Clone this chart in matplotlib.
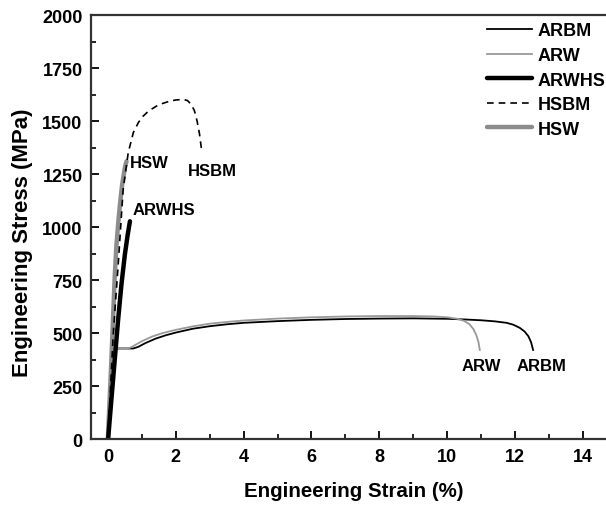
import matplotlib.pyplot as plt
import numpy as np

plt.rcParams['font.family'] = ['Liberation Sans', 'DejaVu Sans']
plt.rcParams['font.weight'] = 'bold'

# Stress-strain curves (strain in %, stress in MPa)
arbm_strain = [0, 0.22, 0.5, 0.75, 0.9, 1.1, 1.4, 1.7, 2.0, 2.5, 3.0, 3.5, 4.0, 5.0, 6.0,
               7.0, 8.0, 9.0, 10.0, 10.5, 11.0, 11.4, 11.75, 11.95, 12.14, 12.28, 12.39,
               12.47, 12.53]
arbm_stress = [0, 428, 428, 428, 436, 453, 474, 490, 503, 521, 533, 542, 549, 557, 563,
               567, 569, 570, 568, 565, 561, 556, 549, 540, 525, 508, 486,
               458, 421]

arw_strain = [0, 0.22, 0.5, 0.65, 0.8, 1.0, 1.3, 1.6, 2.0, 2.5, 3.0, 3.5, 4.0, 5.0, 6.0,
              7.0, 8.0, 9.0, 9.6, 10.0, 10.3, 10.5, 10.65, 10.77, 10.86, 10.92, 10.96]
arw_stress = [0, 428, 428, 431, 444, 462, 484, 500, 516, 532, 545, 553, 560, 569, 575,
              579, 581, 581, 579, 575, 568, 558, 543, 520, 490, 458, 421]

arwhs_strain = [0.01, 0.1, 0.2, 0.3, 0.4, 0.5, 0.58, 0.65]
arwhs_stress = [5, 180, 370, 560, 730, 870, 960, 1028]

hsbm_strain = [0, 0.08, 0.16, 0.30, 0.45, 0.60, 0.75, 0.9, 1.04, 1.2, 1.43, 1.6, 1.83,
               2.0, 2.22, 2.35, 2.45, 2.55, 2.63, 2.7, 2.76]
hsbm_stress = [0, 250, 500, 814, 1177, 1352, 1446, 1494, 1524, 1548, 1571, 1583, 1595,
               1600, 1603, 1597, 1580, 1550, 1500, 1440, 1366]

hsw_strain = [0, 0.05, 0.1, 0.15, 0.2, 0.25, 0.3, 0.35, 0.42, 0.5, 0.55]
hsw_stress = [0, 180, 360, 560, 760, 909, 1010, 1098, 1200, 1280, 1311]

fig = plt.figure(figsize=(6.06, 5.06), dpi=100)
ax = fig.add_axes([0.150, 0.130, 0.868, 0.838])

ax.plot(arbm_strain, arbm_stress, color='black', lw=1.3, label='ARBM')
ax.plot(arw_strain, arw_stress, color='#999999', lw=1.3, label='ARW')
ax.plot(hsw_strain, hsw_stress, color='#8c8c8c', lw=3.2, solid_capstyle='round', label='HSW')
ax.plot(hsbm_strain, hsbm_stress, color='black', lw=1.2, dashes=(4, 3), label='HSBM')
ax.plot(arwhs_strain, arwhs_stress, color='black', lw=3.2, solid_capstyle='round', label='ARWHS')

# Curve labels
lab = dict(fontsize=12, fontweight='bold', va='center')
ax.text(0.65, 1305, 'HSW', **lab)
ax.text(2.36, 1267, 'HSBM', **lab)
ax.text(0.74, 1083, 'ARWHS', **lab)
ax.text(10.43, 350, 'ARW', **lab)
ax.text(12.05, 350, 'ARBM', **lab)

ax.set_xlim(-0.5, 15)
ax.set_ylim(0, 2000)
ax.set_xticks(np.arange(0, 15, 2))
ax.set_xticks(np.arange(0, 15, 1), minor=True)
ax.set_yticks(np.arange(0, 2001, 250))
ax.set_yticks(np.arange(0, 2001, 125), minor=True)
ax.tick_params(which='major', direction='in', length=6, width=1.3, labelsize=13, pad=6)
ax.tick_params(which='minor', direction='in', length=3.5, width=1.2)
ax.tick_params(top=False, right=False)
for s in ax.spines.values():
    s.set_linewidth(1.6)
    s.set_color('#333333')

ax.set_xlabel('Engineering Strain (%)', fontsize=14.8, fontweight='bold', labelpad=12)
ax.set_ylabel('Engineering Stress (MPa)', fontsize=16, fontweight='bold')
ax.yaxis.set_label_coords(-0.11, 0.465)

handles, labels = ax.get_legend_handles_labels()
order = [0, 1, 4, 3, 2]
ax.legend([handles[i] for i in order], [labels[i] for i in order],
          loc='upper left', bbox_to_anchor=(0.739, 1.0), frameon=False,
          fontsize=13, handlelength=2.5, handletextpad=0.3, labelspacing=0.42,
          borderaxespad=0)

fig.savefig('out.png', dpi=100)
